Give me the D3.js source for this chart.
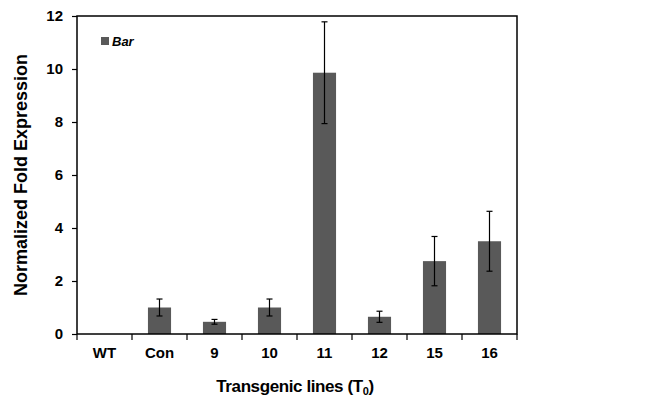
<!DOCTYPE html>
<html><head><meta charset="utf-8">
<script src="https://cdn.jsdelivr.net/npm/d3@7"></script>
<style>body{margin:0;background:#fff;} svg{display:block;}</style>
</head><body>
<svg id="c" width="655" height="410"></svg>
<script>
const categories = ["WT","Con","9","10","11","12","15","16"];
const values = [0, 1.0, 0.46, 1.0, 9.86, 0.65, 2.75, 3.50];
const errors = [0, 0.32, 0.09, 0.32, 1.92, 0.21, 0.93, 1.13];
const yTicks = [0,2,4,6,8,10,12];
const seriesName = "Bar";

const svg = d3.select("#c");
const m = {l:77, r:517, t:16, b:334};
const x = d3.scaleBand().domain(categories).range([m.l, m.r]).paddingInner(0.58).paddingOuter(0.29);
const xb = d3.scaleBand().domain(categories).range([m.l, m.r]);
const y = d3.scaleLinear().domain([0,12]).range([m.b, m.t]);
const font = "'Liberation Sans', Arial, sans-serif";

// bars
svg.append("g").selectAll("rect").data(categories).join("rect")
  .attr("x", d => x(d)).attr("width", x.bandwidth())
  .attr("y", (d,i) => y(values[i])).attr("height", (d,i) => y(0) - y(values[i]))
  .attr("fill", "#595959");

// error bars
const eg = svg.append("g").attr("stroke", "#000").attr("stroke-width", 1.2);
categories.forEach((c,i) => {
  if (!errors[i]) return;
  const cx = x(c) + x.bandwidth()/2;
  const y1 = y(values[i] + errors[i]), y2 = y(values[i] - errors[i]);
  eg.append("line").attr("x1", cx).attr("x2", cx).attr("y1", y1).attr("y2", y2);
  eg.append("line").attr("x1", cx-3).attr("x2", cx+3).attr("y1", y1).attr("y2", y1);
  eg.append("line").attr("x1", cx-3).attr("x2", cx+3).attr("y1", y2).attr("y2", y2);
});

// frame
svg.append("rect").attr("x", m.l).attr("y", m.t).attr("width", m.r-m.l).attr("height", m.b-m.t)
  .attr("fill", "none").attr("stroke", "#000").attr("stroke-width", 1.5);

// y axis
const ya = svg.append("g").attr("transform", `translate(${m.l},0)`)
  .call(d3.axisLeft(y).tickValues(yTicks).tickSize(5).tickPadding(9));
ya.select(".domain").remove();
ya.selectAll("line").attr("stroke", "#000").attr("stroke-width", 1.2);
ya.selectAll("text").attr("font-family", font).attr("font-size", 15).attr("font-weight", "bold").attr("fill", "#000");

// x axis ticks at band boundaries
const bounds = categories.map(c => xb(c)).concat([m.r]);
svg.append("g").selectAll("line").data(bounds).join("line")
  .attr("x1", d => d).attr("x2", d => d).attr("y1", m.b).attr("y2", m.b+6)
  .attr("stroke", "#000").attr("stroke-width", 1.2);
svg.append("g").selectAll("text").data(categories).join("text")
  .attr("x", d => xb(d) + xb.bandwidth()/2).attr("y", 358)
  .attr("text-anchor", "middle").attr("font-family", font).attr("font-size", 15).attr("font-weight", "bold")
  .text(d => d);

// axis titles
svg.append("text").attr("transform", `translate(27,${(m.t+m.b)/2}) rotate(-90)`)
  .attr("text-anchor", "middle").attr("font-family", font).attr("font-size", 18).attr("font-weight", "bold")
  .text("Normalized Fold Expression");
const xt = svg.append("text").attr("x", (m.l+m.r)/2 - 2).attr("y", 392)
  .attr("text-anchor", "middle").attr("font-family", font).attr("font-size", 17).attr("font-weight", "bold")
  .attr("letter-spacing", -0.4);
xt.append("tspan").text("Transgenic lines (T");
xt.append("tspan").attr("font-size", 11).attr("dy", 3).text("0");
xt.append("tspan").attr("dy", -3).text(")");

// legend
svg.append("rect").attr("x", 101).attr("y", 37).attr("width", 8).attr("height", 8).attr("fill", "#595959");
svg.append("text").attr("x", 112).attr("y", 46).attr("font-family", font).attr("font-size", 13)
  .attr("font-style", "italic").attr("font-weight", "bold").text(seriesName);
</script>
</body></html>
